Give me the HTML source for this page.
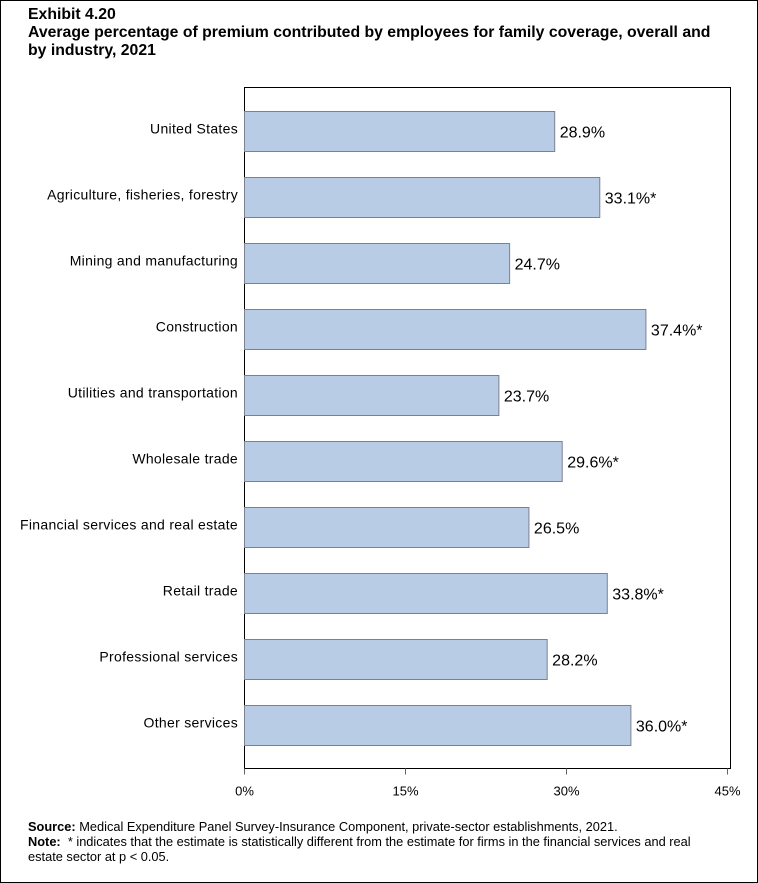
<!DOCTYPE html>
<html><head><meta charset="utf-8"><style>
body{margin:0;background:#fff;font-family:"Liberation Sans",Arial,sans-serif;}
#wrap{position:relative;width:756px;height:881px;border:1px solid #000;overflow:hidden;}
.t{position:absolute;left:27px;font-weight:bold;font-size:15.8px;color:#000;line-height:18px}
.ft{position:absolute;left:27px;font-size:12.8px;line-height:15px}
</style></head><body>
<div id="wrap">
<div class="t" style="top:5px">Exhibit 4.20</div>
<div class="t" style="top:23px;width:705px">Average percentage of premium contributed by employees for family coverage, overall and by industry, 2021</div>
<svg id="chart" width="756" height="800" style="position:absolute;left:0;top:0"></svg>
<div class="ft" style="top:818px"><b>Source:</b> Medical Expenditure Panel Survey-Insurance Component, private-sector establishments, 2021.</div>
<div class="ft" style="top:833px;width:690px"><b>Note:</b>&nbsp; * indicates that the estimate is statistically different from the estimate for firms in the financial services and real estate sector at p &lt; 0.05.</div>
</div>
<script>
const categories=["United States","Agriculture, fisheries, forestry","Mining and manufacturing","Construction","Utilities and transportation","Wholesale trade","Financial services and real estate","Retail trade","Professional services","Other services"];
const values=[28.9,33.1,24.7,37.4,23.7,29.6,26.5,33.8,28.2,36.0];
const flags=["","*","","*","","*","","*","","*"];
const ticks=[0,15,30,45];
const svg=document.getElementById('chart');
const NS='http://www.w3.org/2000/svg';
const x0=243.5,x1=726.5,plotTop=86.5,plotBottom=767.5;
const xs=v=>x0+(v/45)*(x1-x0);
const ys=i=>110.5+i*66;
function mk(t,a){const e=document.createElementNS(NS,t);for(const k in a)e.setAttribute(k,a[k]);svg.appendChild(e);return e;}
let fr=mk('path',{d:`M${x0} ${plotTop}H${x1+3}V${plotBottom}H${x0}Z`,fill:'none',stroke:'#000','stroke-width':1});


ticks.forEach(t=>{
 let l=mk('line',{x1:xs(t),x2:xs(t),y1:plotBottom,y2:plotBottom+6,stroke:'#666'});
 
 
 let tx=mk('text',{x:xs(t),y:plotBottom+27,'text-anchor':'middle','font-size':13});
 tx.textContent=t+'%';
 
 
});
categories.forEach((c,i)=>{
 const y=ys(i);
 let r=mk('rect',{x:x0,y:y,width:xs(values[i])-x0,height:40,fill:'#b8cde5',stroke:'#7a8290','stroke-width':1});
 
 
 let lb=mk('text',{x:237,y:y+22,'text-anchor':'end','font-size':14,'letter-spacing':0.3});
 lb.textContent=c;
 
 
 let vl=mk('text',{x:xs(values[i])+5,y:y+26,'font-size':16});
 vl.textContent=values[i].toFixed(1)+'%'+flags[i];
 
 
});
</script>
</body></html>
